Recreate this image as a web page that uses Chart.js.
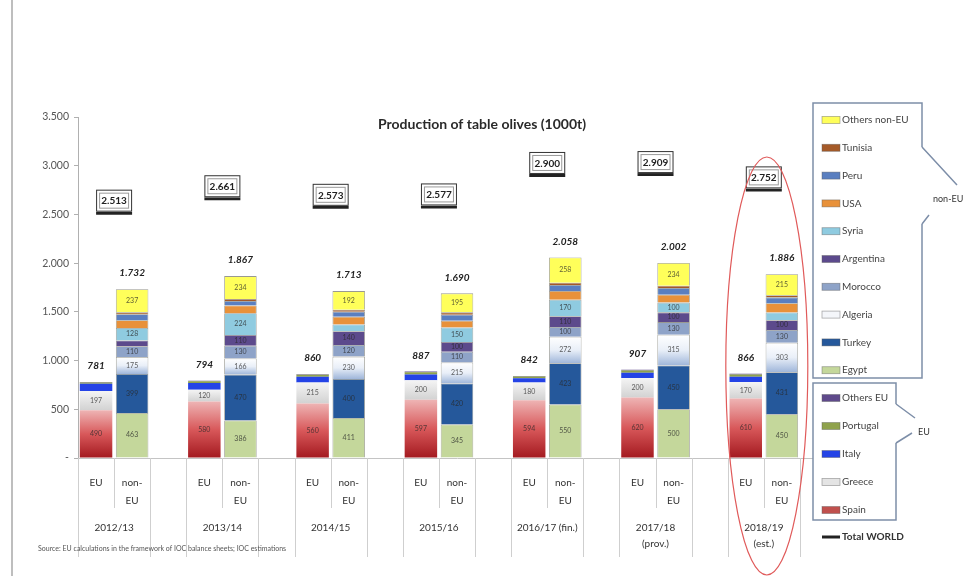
<!DOCTYPE html>
<html lang="en">
<head>
<meta charset="UTF-8">
<title>Production of table olives (1000t)</title>
<style>
    body {
        margin: 0;
        background: #fff;
        font-family: Lato, Arial, sans-serif;
    }
    #chart-container {
        position: relative;
        width: 965px;
        height: 576px;
    }
</style>
</head>
<body>
<div id="chart-container">
    <canvas id="olives-chart"></canvas>
</div>

<script src="https://cdn.jsdelivr.net/npm/chart.js"></script>
<script>
    // crop years (1000 t)
    const seasons = [['2012/13'], ['2013/14'], ['2014/15'], ['2015/16'], ['2016/17 (fin.)'], ['2017/18', '(prov.)'], ['2018/19', '(est.)']];

    // EU producers
    const spain    = [490, 580, 560, 597, 594, 620, 610];
    const greece   = [197, 120, 215, 200, 180, 200, 170];
    const italy    = [75, 70, 60, 60, 45, 55, 55];
    const portugal = [14, 18, 20, 22, 18, 22, 22];
    const othersEU = [5, 6, 5, 8, 5, 10, 9];

    // non-EU producers
    const egypt       = [463, 386, 411, 345, 550, 500, 450];
    const turkey      = [399, 470, 400, 420, 423, 450, 431];
    const algeria     = [175, 166, 230, 215, 272, 315, 303];
    const morocco     = [110, 130, 120, 110, 100, 130, 130];
    const argentina   = [60, 110, 140, 100, 110, 100, 100];
    const syria       = [128, 224, 70, 150, 170, 100, 80];
    const usa         = [80, 80, 80, 70, 90, 80, 95];
    const peru        = [60, 45, 50, 60, 60, 70, 60];
    const tunisia     = [20, 22, 20, 25, 25, 23, 22];
    const othersNonEU = [237, 234, 192, 195, 258, 234, 215];

    const totalWorld = [2513, 2661, 2573, 2577, 2900, 2909, 2752];

    // three slots per season: EU, non-EU, gap
    const slotLabels = [];
    seasons.forEach(() => slotLabels.push('EU', ['non-', 'EU'], ''));

    const fmt = v => v.toLocaleString('de-DE');

    // vertical gradient running over one segment of one bar
    function segmentGradient(values, base, stops) {
        return c => {
            const chart = c.chart;
            if (c.type !== 'data' || !chart.chartArea) return stops[0];
            const g = Math.floor(c.dataIndex / 3);
            const y = chart.scales.y;
            const y0 = y.getPixelForValue(base[g]);
            const y1 = y.getPixelForValue(base[g] + values[g]);
            if (!isFinite(y0) || !isFinite(y1) || y0 === y1) return stops[0];
            const grad = chart.ctx.createLinearGradient(0, y0, 0, y1);
            stops.forEach((col, i) => grad.addColorStop(i / (stops.length - 1), col));
            return grad;
        };
    }

    const euSeries = [
        { label: 'Spain', values: spain, stops: ['#a3191f', '#d8585a', '#eeb4b4'], swatch: '#c0504d' },
        { label: 'Greece', values: greece, stops: ['#d2d2d2', '#f4f4f4'], swatch: '#e4e4e4' },
        { label: 'Italy', values: italy, color: '#2443e6' },
        { label: 'Portugal', values: portugal, color: '#8fa24c' },
        { label: 'Others EU', values: othersEU, color: '#5f4a8b' }
    ];
    const nonEuSeries = [
        { label: 'Egypt', values: egypt, color: '#c4d79b' },
        { label: 'Turkey', values: turkey, color: '#25589b' },
        { label: 'Algeria', values: algeria, stops: ['#9fb6da', '#e9eff8', '#ffffff'], swatch: '#f4f6fa' },
        { label: 'Morocco', values: morocco, color: '#8ea3c8' },
        { label: 'Argentina', values: argentina, color: '#5c4a8c' },
        { label: 'Syria', values: syria, color: '#8fcbe0' },
        { label: 'USA', values: usa, color: '#e8913a' },
        { label: 'Peru', values: peru, color: '#5a7fc0' },
        { label: 'Tunisia', values: tunisia, color: '#a55a28' },
        { label: 'Others non-EU', values: othersNonEU, color: '#ffff5a' }
    ];

    function buildDatasets(series, slot, border) {
        let base = seasons.map(() => 0);
        return series.map(s => {
            const data = [];
            s.values.forEach(v => {
                for (let k = 0; k < 3; k++) data.push(k === slot ? v : null);
            });
            const fill = s.stops ? segmentGradient(s.values, base.slice(), s.stops) : s.color;
            base = base.map((b, g) => b + s.values[g]);
            return {
                label: s.label,
                data: data,
                stack: 'olives',
                grouped: false,
                backgroundColor: fill,
                borderColor: border ? 'rgba(70,70,55,0.55)' : 'rgba(0,0,0,0)',
                borderWidth: border ? 0.8 : 0,
                barPercentage: 0.9,
                categoryPercentage: 1,
                showValue: true
            };
        });
    }

    const euTotals = seasons.map((_, g) => euSeries.reduce((a, s) => a + s.values[g], 0));
    const nonEuTotals = seasons.map((_, g) => nonEuSeries.reduce((a, s) => a + s.values[g], 0));

    const datasets = [
        ...buildDatasets(euSeries, 0, false),
        ...buildDatasets(nonEuSeries, 1, true),
        {
            type: 'line',
            label: 'Total WORLD',
            xAxisID: 'xw',
            stack: 'world',
            data: totalWorld.map((v, g) => ({ x: 3 * g + 0.5, y: v })),
            showLine: false,
            pointStyle: 'line',
            pointRadius: 18,
            pointBorderWidth: 3,
            pointBorderColor: '#222',
            pointBackgroundColor: '#222'
        }
    ];

    // labels, legend boxes, season row and the highlight ring
    const annotations = {
        id: 'annotations',
        afterDatasetsDraw(chart) {
            const { ctx, scales: { x, y } } = chart;
            ctx.save();
            ctx.textAlign = 'center';
            ctx.textBaseline = 'middle';

            // values inside larger segments
            ctx.font = '7px Lato';
            ctx.fillStyle = 'rgba(40,40,40,0.75)';
            chart.data.datasets.forEach((ds, di) => {
                if (!ds.showValue) return;
                chart.getDatasetMeta(di).data.forEach((bar, i) => {
                    const v = ds.data[i];
                    if (v == null || v < 100) return;
                    const p = bar.getProps(['x', 'y', 'base'], true);
                    ctx.fillText(fmt(v), p.x, (p.y + p.base) / 2);
                });
            });

            // bar totals
            ctx.font = 'italic bold 10px Lato';
            ctx.fillStyle = '#222';
            seasons.forEach((_, g) => {
                ctx.fillText(fmt(euTotals[g]), x.getPixelForValue(3 * g), y.getPixelForValue(euTotals[g]) - 16);
                ctx.fillText(fmt(nonEuTotals[g]), x.getPixelForValue(3 * g + 1), y.getPixelForValue(nonEuTotals[g]) - 16);
            });

            // world total boxes sitting on their markers
            const worldIdx = chart.data.datasets.findIndex(d => d.type === 'line');
            chart.getDatasetMeta(worldIdx).data.forEach((pt, i) => {
                const w = 36, h = 22;
                const left = pt.x - w / 2, top = pt.y - h - 1.5;
                ctx.fillStyle = '#fff';
                ctx.fillRect(left, top, w, h);
                ctx.strokeStyle = '#333';
                ctx.lineWidth = 1;
                ctx.strokeRect(left + 0.5, top + 0.5, w - 1, h - 1);
                ctx.strokeStyle = '#9a9a9a';
                ctx.strokeRect(left + 3.5, top + 3.5, w - 7, h - 7);
                ctx.fillStyle = '#222';
                ctx.font = 'bold 10px Lato';
                ctx.fillText(fmt(totalWorld[i]), pt.x, top + h / 2 + 0.5);
            });
            ctx.restore();
        },
        afterDraw(chart) {
            const { ctx, scales: { x } } = chart;
            const bottom = chart.chartArea.bottom;
            const slotW = x.getPixelForValue(1) - x.getPixelForValue(0);
            ctx.save();

            // frame line on the left
            ctx.strokeStyle = '#a8a8a8';
            ctx.lineWidth = 1.5;
            ctx.beginPath();
            ctx.moveTo(12, 0);
            ctx.lineTo(12, 576);
            ctx.stroke();

            // title
            ctx.fillStyle = '#2a2a2a';
            ctx.font = 'bold 14px Lato';
            ctx.textAlign = 'center';
            ctx.textBaseline = 'middle';
            ctx.fillText('Production of table olives (1000t)', 482, 124);

            // category table under the axis
            ctx.strokeStyle = '#cfcfcf';
            ctx.lineWidth = 1;
            ctx.font = '10px Lato';
            ctx.fillStyle = '#333';
            seasons.forEach((lines, g) => {
                const left = x.getPixelForValue(3 * g) - slotW / 2;
                const mid = left + slotW;
                const right = left + 2 * slotW;
                [[left, 557], [mid, 508], [right, 557]].forEach(([lx, ly]) => {
                    ctx.beginPath();
                    ctx.moveTo(Math.round(lx) + 0.5, bottom);
                    ctx.lineTo(Math.round(lx) + 0.5, ly);
                    ctx.stroke();
                });
                lines.forEach((t, k) => ctx.fillText(t, (left + right) / 2, 528 + k * 16));
            });

            // source note
            ctx.textAlign = 'left';
            ctx.font = '7px Lato';
            ctx.fillStyle = '#555';
            ctx.fillText('Source: EU calculations in the framework of IOC balance sheets; IOC estimations', 38, 549);

            // legend boxes
            const drawBox = (x0, y0, x1, y1, notch, tip, label, labelPos) => {
                ctx.fillStyle = '#fff';
                ctx.fillRect(x0, y0, x1 - x0, y1 - y0);
                ctx.strokeStyle = '#7d8ea8';
                ctx.lineWidth = 1.5;
                ctx.beginPath();
                ctx.moveTo(x1, notch[0]);
                ctx.lineTo(x1, y0);
                ctx.lineTo(x0, y0);
                ctx.lineTo(x0, y1);
                ctx.lineTo(x1, y1);
                ctx.lineTo(x1, notch[1]);
                ctx.stroke();
                ctx.beginPath();
                ctx.moveTo(x1, notch[0]);
                ctx.lineTo(tip[0], tip[1]);
                ctx.moveTo(tip[2], tip[3]);
                ctx.lineTo(x1, notch[1]);
                ctx.stroke();
                ctx.fillStyle = '#333';
                ctx.font = '9px Lato';
                ctx.textAlign = 'left';
                ctx.fillText(label, labelPos[0], labelPos[1]);
            };
            drawBox(813, 103, 922, 378, [147, 224], [957, 185, 929, 215], 'non-EU', [933, 199]);
            drawBox(813, 383, 896, 520, [404, 443], [915, 418, 912, 433], 'EU', [918, 432]);

            const drawItem = (s, iy) => {
                ctx.fillStyle = s.swatch || s.color;
                ctx.fillRect(822, iy - 3.5, 18, 7);
                ctx.strokeStyle = 'rgba(90,90,90,0.5)';
                ctx.lineWidth = 0.8;
                ctx.strokeRect(822, iy - 3.5, 18, 7);
                ctx.fillStyle = '#444';
                ctx.font = '10px Lato';
                ctx.fillText(s.label, 842, iy);
            };
            nonEuSeries.slice().reverse().forEach((s, i) => drawItem(s, 120 + i * 27.8));
            euSeries.slice().reverse().forEach((s, i) => drawItem(s, 398 + i * 28));

            ctx.strokeStyle = '#222';
            ctx.lineWidth = 3;
            ctx.beginPath();
            ctx.moveTo(822, 537);
            ctx.lineTo(840, 537);
            ctx.stroke();
            ctx.fillStyle = '#333';
            ctx.font = 'bold 10px Lato';
            ctx.fillText('Total WORLD', 842, 537);

            // ring around the latest season (between its EU and non-EU bars)
            const cx = x.getPixelForValue(18.5);
            ctx.strokeStyle = '#e05a5a';
            ctx.lineWidth = 1.2;
            ctx.beginPath();
            ctx.ellipse(cx + 3, 366, 41, 209, 0, 0, Math.PI * 2);
            ctx.stroke();

            ctx.restore();
        }
    };

    new Chart(document.getElementById('olives-chart'), {
        type: 'bar',
        data: { labels: slotLabels, datasets: datasets },
        options: {
            responsive: true,
            maintainAspectRatio: false,
            animation: false,
            layout: { padding: { top: 117, right: 129, left: 0, bottom: 0 } },
            plugins: {
                legend: { display: false },
                tooltip: { enabled: false }
            },
            scales: {
                x: {
                    stacked: true,
                    grid: { display: false, drawTicks: false },
                    border: { color: '#c4c4c4' },
                    ticks: {
                        autoSkip: false,
                        maxRotation: 0,
                        padding: 16,
                        color: '#333',
                        font: { family: 'Lato', size: 10, lineHeight: 1.8 }
                    },
                    afterFit: s => { s.height = 118; }
                },
                xw: {
                    type: 'linear',
                    display: false,
                    offset: false,
                    grid: { offset: false },
                    min: -0.5,
                    max: slotLabels.length - 0.5
                },
                y: {
                    stacked: true,
                    min: 0,
                    max: 3500,
                    ticks: {
                        stepSize: 500,
                        padding: 5,
                        color: '#555',
                        font: { family: 'Lato', size: 10.5 },
                        callback: v => v === 0 ? '-' : fmt(v)
                    },
                    grid: { drawOnChartArea: false, tickLength: 4, color: '#b0b0b0' },
                    border: { color: '#b0b0b0' },
                    afterFit: s => { s.width = 78; }
                }
            }
        },
        plugins: [annotations]
    });
</script>
</body>
</html>
